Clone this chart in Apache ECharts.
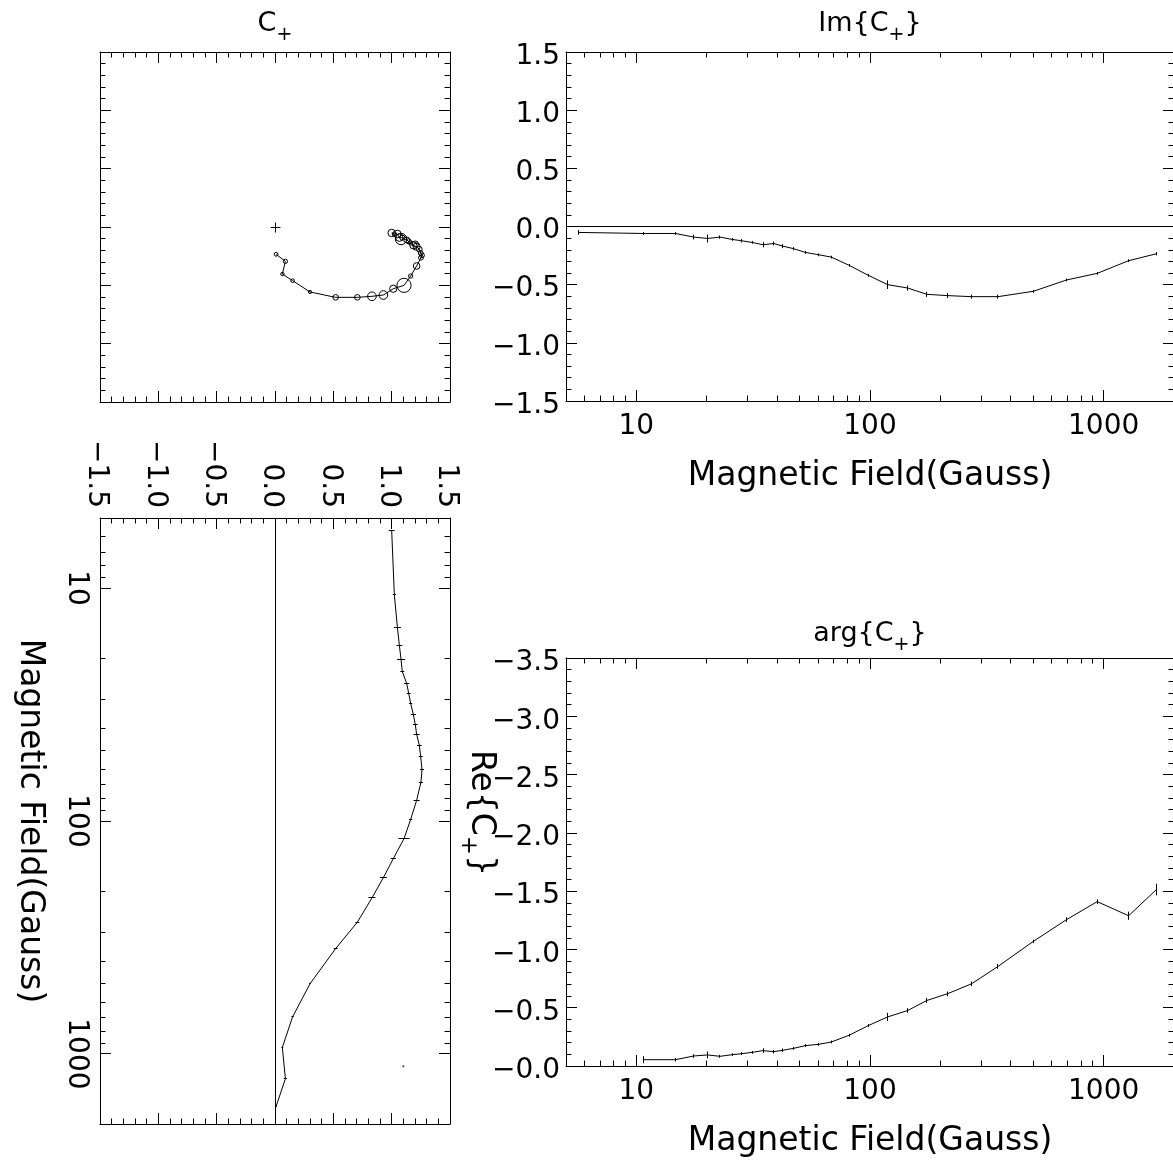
<!DOCTYPE html>
<html><head><meta charset="utf-8">
<script src="https://cdn.jsdelivr.net/npm/echarts@6/dist/echarts.min.js"></script>
<style>html,body{margin:0;padding:0;background:#fff}#c{width:1173px;height:1166px}</style>
</head><body><div id="c"></div>
<script>
// ---- data ----
const field = [5.64, 10.7, 14.7, 17.6, 20.2, 22.8, 25.7, 28.3, 31.3, 34.9, 38.7, 42.4, 47.2, 53.0, 60.3, 68.3, 81.5, 98.4, 119, 145, 175, 214, 272, 353, 500, 693, 938, 1279, 1683];
const reC = [1.0, 1.023, 1.049, 1.066, 1.08, 1.091, 1.129, 1.146, 1.163, 1.186, 1.203, 1.214, 1.237, 1.249, 1.26, 1.251, 1.214, 1.163, 1.106, 1.014, 0.929, 0.831, 0.706, 0.52, 0.30, 0.151, 0.063, 0.089, 0.009];
const imC = [-0.051, -0.06, -0.06, -0.091, -0.103, -0.091, -0.111, -0.123, -0.137, -0.157, -0.146, -0.169, -0.191, -0.223, -0.243, -0.263, -0.334, -0.42, -0.5, -0.529, -0.583, -0.594, -0.603, -0.603, -0.557, -0.46, -0.403, -0.294, -0.234];
const argC = [null, -0.054, -0.054, -0.086, -0.095, -0.083, -0.097, -0.106, -0.117, -0.132, -0.123, -0.135, -0.152, -0.175, -0.186, -0.206, -0.264, -0.347, -0.421, -0.476, -0.562, -0.619, -0.705, -0.854, -1.069, -1.255, -1.41, -1.289, -1.514];
const errRe = [0.025, 0.014, 0.03, 0.025, 0.035, 0.017, 0.022, 0.017, 0.014, 0.022, 0.02, 0.026, 0.02, 0.017, 0.017, 0.017, 0.026, 0.014, 0.048, 0.022, 0.03, 0.03, 0.017, 0.017, 0.006, 0.01, 0.008, 0.014, 0.008];
const errIm = [0.02, 0.012, 0.012, 0.02, 0.034, 0.014, 0.012, 0.014, 0.012, 0.022, 0.017, 0.017, 0.014, 0.012, 0.012, 0.012, 0.012, 0.012, 0.037, 0.022, 0.022, 0.022, 0.017, 0.017, 0.012, 0.012, 0.012, 0.012, 0.014];
const errArg = [null, 0.03, 0.015, 0.015, 0.03, 0.012, 0.012, 0.012, 0.012, 0.02, 0.015, 0.015, 0.012, 0.012, 0.012, 0.012, 0.012, 0.012, 0.035, 0.02, 0.02, 0.02, 0.02, 0.02, 0.015, 0.02, 0.02, 0.035, 0.05];
const strayPoint = [[1.10, 1130]];
const originMark = [[0, 0]];

// ---- ticks / labels ----
const linTickValues = [-1.5, -1.0, -0.5, 0.0, 0.5, 1.0, 1.5];
const linTickLabels = ['\u22121.5', '\u22121.0', '\u22120.5', '0.0', '0.5', '1.0', '1.5'];
const argTickValues = [-3.5, -3.0, -2.5, -2.0, -1.5, -1.0, -0.5, 0.0];
const argTickLabels = ['\u22123.5', '\u22123.0', '\u22122.5', '\u22122.0', '\u22121.5', '\u22121.0', '\u22120.5', '\u22120.0'];
const fieldTickValues = [10, 100, 1000];
const fieldTickLabels = ['10', '100', '1000'];
const fieldMinorTicks = [6, 7, 8, 9, 20, 30, 40, 50, 60, 70, 80, 90, 200, 300, 400, 500, 600, 700, 800, 900];
const fieldRange = [5, 2000];
const fieldName = 'Magnetic Field(Gauss)';

const FONT = "'DejaVu Sans ExtraLight', 'DejaVu Sans', 'Noto Sans', sans-serif";
const BLACK = '#000';
const TMAJ = 11, TMIN = 5.5;
const LABEL_SIZE = 28;

function labelFrom(values, labels) {
  return function (v) {
    for (let i = 0; i < values.length; i++) {
      if (Math.abs(v - values[i]) <= 1e-6 * Math.max(1, Math.abs(values[i]))) return labels[i];
    }
    return '';
  };
}
function crisp(v) { return Math.round(v - 0.5) + 0.5; }

function valAxis(gi, pos, min, max, inverse, label) {
  return {
    type: 'value', gridIndex: gi, position: pos, min: min, max: max, interval: 0.5, inverse: !!inverse,
    axisLine: { show: true, onZero: false, lineStyle: { color: BLACK, width: 1 } },
    axisTick: { show: true, inside: true, length: TMAJ, lineStyle: { color: BLACK, width: 1 } },
    minorTick: { show: true, splitNumber: 5, length: TMIN, lineStyle: { color: BLACK, width: 1 } },
    splitLine: { show: false }, minorSplitLine: { show: false },
    axisLabel: label ? Object.assign({ show: true, showMinLabel: true, showMaxLabel: true, color: BLACK, fontFamily: FONT, fontSize: LABEL_SIZE }, label) : { show: false }
  };
}
function logAxis(gi, pos, inverse, label, name) {
  const a = {
    type: 'log', logBase: 10, gridIndex: gi, position: pos, min: fieldRange[0], max: fieldRange[1], inverse: !!inverse,
    axisLine: { show: true, onZero: false, lineStyle: { color: BLACK, width: 1 } },
    axisTick: { show: false }, minorTick: { show: false }, splitLine: { show: false }, minorSplitLine: { show: false },
    axisLabel: label ? Object.assign({ show: true, color: BLACK, fontFamily: FONT, fontSize: LABEL_SIZE, formatter: labelFrom(fieldTickValues, fieldTickLabels) }, label) : { show: false }
  };
  if (name) Object.assign(a, name);
  return a;
}

function hLogTicks(params, api) {
  const cs = params.coordSys;
  const x = crisp(api.coord([api.value(0), api.value(1)])[0]);
  const len = api.value(2) ? TMAJ : TMIN;
  const yb = Math.round(cs.y + cs.height), yt = Math.round(cs.y);
  return { type: 'group', children: [
    { type: 'line', shape: { x1: x, y1: yb, x2: x, y2: yb - len }, style: { stroke: BLACK, lineWidth: 1 } },
    { type: 'line', shape: { x1: x, y1: yt, x2: x, y2: yt + len }, style: { stroke: BLACK, lineWidth: 1 } }
  ] };
}
function vLogTicks(params, api) {
  const cs = params.coordSys;
  const y = crisp(api.coord([api.value(0), api.value(1)])[1]);
  const len = api.value(2) ? TMAJ : TMIN;
  const xl = Math.round(cs.x), xr = Math.round(cs.x + cs.width);
  return { type: 'group', children: [
    { type: 'line', shape: { x1: xl, y1: y, x2: xl + len, y2: y }, style: { stroke: BLACK, lineWidth: 1 } },
    { type: 'line', shape: { x1: xr, y1: y, x2: xr - len, y2: y }, style: { stroke: BLACK, lineWidth: 1 } }
  ] };
}
function vErr(params, api) {
  const x = api.value(0), y = api.value(1), e = api.value(2);
  const p1 = api.coord([x, y - e]), p2 = api.coord([x, y + e]);
  const px = crisp(p1[0]);
  return { type: 'line', shape: { x1: px, y1: p1[1], x2: px, y2: p2[1] }, style: { stroke: BLACK, lineWidth: 1 } };
}
function hErr(params, api) {
  const x = api.value(0), y = api.value(1), e = api.value(2);
  const p1 = api.coord([x - e, y]), p2 = api.coord([x + e, y]);
  const py = crisp(p1[1]);
  return { type: 'line', shape: { x1: p1[0], y1: py, x2: p2[0], y2: py }, style: { stroke: BLACK, lineWidth: 1 } };
}
function circ(params, api) {
  const p = api.coord([api.value(0), api.value(1)]);
  const r = Math.max(1, api.size([Math.hypot(api.value(2), api.value(3)), 0])[0]);
  return { type: 'circle', shape: { cx: p[0], cy: p[1], r: r }, style: { fill: 'none', stroke: BLACK, lineWidth: 1 } };
}
function plusMark(params, api) {
  const p = api.coord([api.value(0), api.value(1)]);
  const x = crisp(p[0]), y = crisp(p[1]);
  return { type: 'group', children: [
    { type: 'line', shape: { x1: x - 5, y1: y, x2: x + 5, y2: y }, style: { stroke: BLACK, lineWidth: 1 } },
    { type: 'line', shape: { x1: x, y1: y - 5, x2: x, y2: y + 5 }, style: { stroke: BLACK, lineWidth: 1 } }
  ] };
}

const imData = field.map((f, i) => [f, imC[i]]);
const imErrData = field.map((f, i) => [f, imC[i], errIm[i]]);
const argData = field.map((f, i) => [f, argC[i]]).filter(d => d[1] !== null);
const argErrData = field.map((f, i) => [f, argC[i], errArg[i]]).filter(d => d[1] !== null);
const reData = field.map((f, i) => [reC[i], f]);
const reErrData = field.map((f, i) => [reC[i], f, errRe[i]]);
const cData = reC.map((r, i) => [r, imC[i]]);
const cCircleData = reC.map((r, i) => [r, imC[i], errRe[i], errIm[i]]);
const hTickData = fieldTickValues.map(v => [v, 0, 1]).concat(fieldMinorTicks.map(v => [v, 0, 0]));
const vTickData = fieldTickValues.map(v => [0, v, 1]).concat(fieldMinorTicks.map(v => [0, v, 0]));

const lineStyle = { color: BLACK, width: 1 };
const zeroMark = (d) => ({ silent: true, symbol: ['none', 'none'], data: [d], label: { show: false }, lineStyle: { color: BLACK, width: 1, type: 'solid' }, emphasis: { disabled: true } });

function richFor(main, sub, pad) {
  return {
    m: { fontFamily: FONT, fontSize: main, fill: BLACK },
    s: { fontFamily: FONT, fontSize: sub, fill: BLACK, padding: [pad, 0, 0, 0] }
  };
}
function titleText(x, y, text, size, rot) {
  const sub = Math.round(size * 0.7);
  return { type: 'text', x: x, y: y, rotation: rot || 0, silent: true,
    style: { text: text, rich: richFor(size, sub, Math.round(size * 0.8)), fontFamily: FONT, fontSize: size, fill: BLACK, align: 'center', verticalAlign: 'middle' } };
}

const nameStyleH = { color: BLACK, fontFamily: FONT, fontSize: 33, align: 'center', verticalAlign: 'top' };

const option = {
  animation: false,
  backgroundColor: '#fff',
  grid: [
    { left: 100, top: 52, width: 350, height: 350, containLabel: false, outerBoundsMode: 'none' },
    { left: 566, top: 52, width: 608, height: 349, containLabel: false, outerBoundsMode: 'none' },
    { left: 100, top: 518, width: 350, height: 606, containLabel: false, outerBoundsMode: 'none' },
    { left: 566, top: 658, width: 608, height: 408, containLabel: false, outerBoundsMode: 'none' }
  ],
  xAxis: [
    valAxis(0, 'bottom', -1.5, 1.5),
    valAxis(0, 'top', -1.5, 1.5),
    logAxis(1, 'bottom', false, { margin: 12 }, { name: fieldName, nameLocation: 'middle', nameGap: 59, nameTextStyle: nameStyleH }),
    logAxis(1, 'top', false),
    valAxis(2, 'top', -1.5, 1.5, false, { rotate: 90, margin: 10, align: 'right', verticalAlign: 'top', lineHeight: 7, formatter: labelFrom(linTickValues, linTickLabels) }),
    valAxis(2, 'bottom', -1.5, 1.5),
    logAxis(3, 'bottom', false, { margin: 12 }, { name: fieldName, nameLocation: 'middle', nameGap: 59, nameTextStyle: nameStyleH }),
    logAxis(3, 'top', false)
  ],
  yAxis: [
    valAxis(0, 'left', -1.5, 1.5),
    valAxis(0, 'right', -1.5, 1.5),
    valAxis(1, 'left', -1.5, 1.5, false, { margin: 6, verticalAlign: 'top', lineHeight: 9, formatter: labelFrom(linTickValues, linTickLabels) }),
    valAxis(1, 'right', -1.5, 1.5),
    logAxis(2, 'left', true, { rotate: -90, margin: 10, align: 'center', verticalAlign: 'top' },
      { name: fieldName, nameLocation: 'middle', nameRotate: -90, nameGap: 54, nameTextStyle: nameStyleH }),
    logAxis(2, 'right', true),
    valAxis(3, 'left', -3.5, 0, true, { margin: 6, verticalAlign: 'top', lineHeight: 10, formatter: labelFrom(argTickValues, argTickLabels) }),
    valAxis(3, 'right', -3.5, 0, true)
  ],
  graphic: [
    titleText(275, 24, '{m|C}{s|+}', 27),
    titleText(870, 24, '{m|Im{C}{s|+}}', 27),
    titleText(870, 634, '{m|arg{C}{s|+}}', 27),
    titleText(481, 813, '{m|Re{C}{s|+}}', 33, -Math.PI / 2)
  ],
  series: [
    { type: 'line', xAxisIndex: 0, yAxisIndex: 0, data: cData, showSymbol: false, symbol: 'none', lineStyle: lineStyle, silent: true },
    { type: 'custom', xAxisIndex: 0, yAxisIndex: 0, data: cCircleData, renderItem: circ, silent: true, clip: false },
    { type: 'custom', xAxisIndex: 0, yAxisIndex: 0, data: originMark, renderItem: plusMark, silent: true, clip: false },

    { type: 'line', xAxisIndex: 2, yAxisIndex: 2, data: imData, showSymbol: false, symbol: 'none', lineStyle: lineStyle, silent: true, markLine: zeroMark({ yAxis: 0 }) },
    { type: 'custom', xAxisIndex: 2, yAxisIndex: 2, data: imErrData, renderItem: vErr, silent: true, clip: false },
    { type: 'custom', xAxisIndex: 2, yAxisIndex: 2, data: hTickData, renderItem: hLogTicks, silent: true, clip: false },

    { type: 'line', xAxisIndex: 4, yAxisIndex: 4, data: reData, showSymbol: false, symbol: 'none', lineStyle: lineStyle, silent: true, markLine: zeroMark({ xAxis: 0 }) },
    { type: 'custom', xAxisIndex: 4, yAxisIndex: 4, data: reErrData, renderItem: hErr, silent: true, clip: false },
    { type: 'custom', xAxisIndex: 4, yAxisIndex: 4, data: vTickData, renderItem: vLogTicks, silent: true, clip: false },
    { type: 'scatter', xAxisIndex: 4, yAxisIndex: 4, data: strayPoint, symbol: 'circle', symbolSize: 2, itemStyle: { color: BLACK }, silent: true },

    { type: 'line', xAxisIndex: 6, yAxisIndex: 6, data: argData, showSymbol: false, symbol: 'none', lineStyle: lineStyle, silent: true },
    { type: 'custom', xAxisIndex: 6, yAxisIndex: 6, data: argErrData, renderItem: vErr, silent: true, clip: false },
    { type: 'custom', xAxisIndex: 6, yAxisIndex: 6, data: hTickData, renderItem: hLogTicks, silent: true, clip: false }
  ]
};

const chart = echarts.init(document.getElementById('c'), null, { renderer: 'canvas' });
chart.setOption(option);
</script>
</body></html>
